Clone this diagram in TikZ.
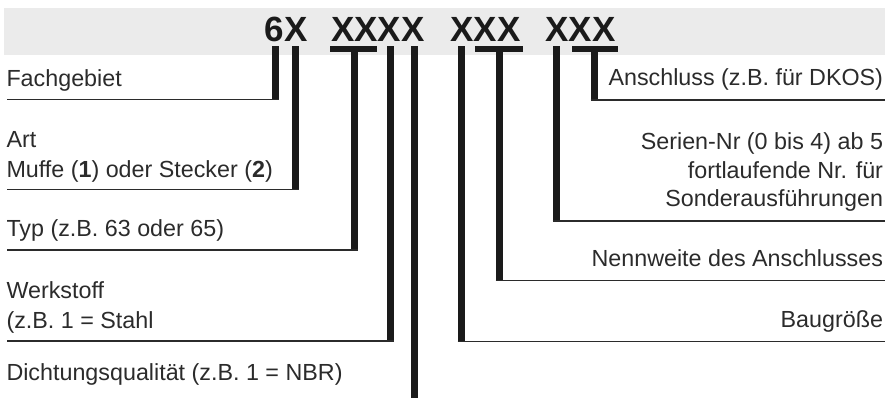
\documentclass[tikz,border=0pt]{standalone}
\usepackage{fontspec}
\setmainfont{Liberation Sans}
\usetikzlibrary{calc}
\definecolor{band}{HTML}{EBEBEB}
\definecolor{ink}{HTML}{1A1A1A}
\definecolor{txt}{HTML}{2B2B2B}
\tikzset{
  lbl/.style={inner sep=0pt, outer sep=0pt, text=txt, font=\fontsize{23.3}{30}\selectfont},
  code/.style={inner sep=0pt, outer sep=0pt, text=ink, font=\fontsize{35}{40}\selectfont\bfseries},
  bar/.style={draw=ink, line width=7pt},
  lead/.style={draw=txt, line width=1.3pt},
  tbar/.style={fill=ink, draw=none},
}
\begin{document}
\begin{tikzpicture}[x=1pt,y=-1pt]
\useasboundingbox (0,0) rectangle (885,398);
\fill[band] (4,8) rectangle (885,55);
% code groups
\node[code, anchor=base west] (g1) at (264.8,42) {6X};
\node[code, anchor=base west] (g2) at (331,42) {XXXX};
\node[code, anchor=base west] (g3) at (450.5,42) {XXX};
\node[code, anchor=base west] (g4) at (545.5,42) {XXX};
% labels left
\node[lbl, anchor=base west] (fach) at (6.5,86.5) {Fachgebiet};
\node[lbl, anchor=base west] (art) at (6.5,148) {\begin{tabular}[t]{@{}l@{}}Art\\Muffe (\textbf{1}) oder Stecker (\textbf{2})\end{tabular}};
\node[lbl, anchor=base west] (typ) at (6.5,236.5) {Typ (z.B. 63 oder 65)};
\node[lbl, anchor=base west] (werk) at (6.5,298.3) {\begin{tabular}[t]{@{}l@{}}Werkstoff\\(z.B. 1 = Stahl\end{tabular}};
\node[lbl, anchor=base west] (dicht) at (6.5,380) {Dichtungsqualität (z.B. 1 = NBR)};
% labels right
\node[lbl, anchor=base east] (ansch) at (883,86) {Anschluss (z.B. für DKOS)};
\node[lbl, anchor=base east, font=\fontsize{23.3}{28.6}\selectfont] (serie) at (883,149.5) {\begin{tabular}[t]{@{}r@{}}Serien-Nr (0 bis 4) ab 5\\fortlaufende Nr. für\\Sonderausführungen\end{tabular}};
\node[lbl, anchor=base east] (nenn) at (883,266.7) {Nennweite des Anschlusses};
\node[lbl, anchor=base east] (bau) at (883,327) {Baugröße};
% bar tops
\coordinate (t1) at (275,46.5);
\coordinate (t2) at (295.5,46.5);
\coordinate (t3) at (354,46.5);
\coordinate (t4) at (390.5,46.5);
\coordinate (t5) at (414,46.5);
\coordinate (t6) at (461,46.5);
\coordinate (t7) at (499,46.5);
\coordinate (t8) at (556,46.5);
\coordinate (t9) at (594,46.5);
% line ends
\coordinate (e1) at (7,99.5);
\coordinate (e2) at (7,189.5);
\coordinate (e3) at (7,250);
\coordinate (e4) at (7,341);
\coordinate (e5) at (414,398);
\coordinate (e6) at (885,341.5);
\coordinate (e7) at (885,280.7);
\coordinate (e8) at (885,221);
\coordinate (e9) at (885,100);
% T caps
\fill[tbar] (330,46.5) rectangle (377,52.5);
\fill[tbar] (475,46.5) rectangle (523,52.5);
\fill[tbar] (572,46.5) rectangle (618.3,52.5);
% left connectors
\foreach \i in {1,2,3,4}{
  \draw[bar] (t\i) -- ($(t\i |- e\i)+(0,0.65)$);
  \draw[lead] (e\i) -- ($(t\i |- e\i)+(3.5,0)$);
}
\draw[bar] (t5) -- (e5);
% right connectors
\foreach \i in {6,7,8,9}{
  \draw[bar] (t\i) -- ($(t\i |- e\i)+(0,0.65)$);
  \draw[lead] ($(t\i |- e\i)+(-3.5,0)$) -- (e\i);
}
\end{tikzpicture}
\end{document}
